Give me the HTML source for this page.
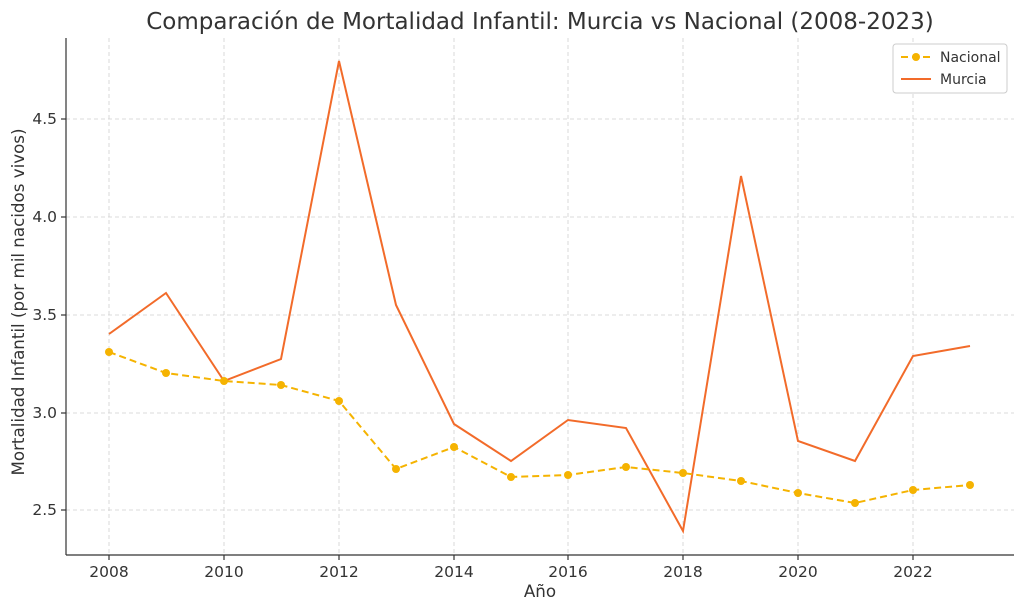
<!DOCTYPE html>
<html><head><meta charset="utf-8"><style>
body{margin:0;background:#fff;}
svg{display:block;font-family:"DejaVu Sans","Liberation Sans",sans-serif;}
</style></head><body>
<svg width="1024" height="611" viewBox="0 0 1024 611">
<rect width="1024" height="611" fill="#fff"/>
<text x="540" y="29" font-size="23" fill="#333" text-anchor="middle">Comparación de Mortalidad Infantil: Murcia vs Nacional (2008-2023)</text>
<g stroke="#d0d0d0" stroke-dasharray="4,3" stroke-width="0.8">
<line x1="109" y1="38" x2="109" y2="555"/><line x1="224" y1="38" x2="224" y2="555"/>
<line x1="339" y1="38" x2="339" y2="555"/><line x1="454" y1="38" x2="454" y2="555"/>
<line x1="568" y1="38" x2="568" y2="555"/><line x1="683" y1="38" x2="683" y2="555"/>
<line x1="798" y1="38" x2="798" y2="555"/><line x1="913" y1="38" x2="913" y2="555"/>
<line x1="66" y1="119" x2="1014" y2="119"/><line x1="66" y1="217" x2="1014" y2="217"/>
<line x1="66" y1="315" x2="1014" y2="315"/><line x1="66" y1="413" x2="1014" y2="413"/>
<line x1="66" y1="510" x2="1014" y2="510"/>
</g>
<g stroke="#333" stroke-width="1.2">
<line x1="66" y1="38" x2="66" y2="555"/><line x1="66" y1="555" x2="1014" y2="555"/>
<line x1="109" y1="555" x2="109" y2="560"/><line x1="224" y1="555" x2="224" y2="560"/>
<line x1="339" y1="555" x2="339" y2="560"/><line x1="454" y1="555" x2="454" y2="560"/>
<line x1="568" y1="555" x2="568" y2="560"/><line x1="683" y1="555" x2="683" y2="560"/>
<line x1="798" y1="555" x2="798" y2="560"/><line x1="913" y1="555" x2="913" y2="560"/>
<line x1="61" y1="119" x2="66" y2="119"/><line x1="61" y1="217" x2="66" y2="217"/>
<line x1="61" y1="315" x2="66" y2="315"/><line x1="61" y1="413" x2="66" y2="413"/>
<line x1="61" y1="510" x2="66" y2="510"/>
</g>
<g font-size="15.5" fill="#333" text-anchor="middle">
<text x="109" y="577">2008</text><text x="224" y="577">2010</text><text x="339" y="577">2012</text>
<text x="454" y="577">2014</text><text x="568" y="577">2016</text><text x="683" y="577">2018</text>
<text x="798" y="577">2020</text><text x="913" y="577">2022</text>
</g>
<g font-size="15.5" fill="#333" text-anchor="end">
<text x="57" y="124">4.5</text><text x="57" y="222">4.0</text><text x="57" y="320">3.5</text>
<text x="57" y="418">3.0</text><text x="57" y="515">2.5</text>
</g>
<text x="540" y="597" font-size="16.7" fill="#333" text-anchor="middle">Año</text>
<text transform="translate(24,302) rotate(-90)" font-size="16.7" fill="#333" text-anchor="middle">Mortalidad Infantil (por mil nacidos vivos)</text>
<polyline fill="none" stroke="#f26b2a" stroke-width="2" points="109,334 166,293 224,381 281,359 339,61 396,305 454,424 511,461 568,420 626,428 683,531 741,176 798,441 855,461 913,356 970,346"/>
<polyline fill="none" stroke="#f5b301" stroke-width="2" stroke-dasharray="7,4" points="109,352 166,373 224,381 281,385 339,401 396,469 454,447 511,477 568,475 626,467 683,473 741,481 798,493 855,503 913,490 970,485"/>
<g fill="#f5b301">
<circle cx="109" cy="352" r="4"/><circle cx="166" cy="373" r="4"/><circle cx="224" cy="381" r="4"/><circle cx="281" cy="385" r="4"/>
<circle cx="339" cy="401" r="4"/><circle cx="396" cy="469" r="4"/><circle cx="454" cy="447" r="4"/><circle cx="511" cy="477" r="4"/>
<circle cx="568" cy="475" r="4"/><circle cx="626" cy="467" r="4"/><circle cx="683" cy="473" r="4"/><circle cx="741" cy="481" r="4"/>
<circle cx="798" cy="493" r="4"/><circle cx="855" cy="503" r="4"/><circle cx="913" cy="490" r="4"/><circle cx="970" cy="485" r="4"/>
</g>
<rect x="893" y="44" width="114" height="49" fill="#fff" stroke="#ccc" rx="3"/>
<line x1="901" y1="57" x2="931" y2="57" stroke="#f5b301" stroke-width="2" stroke-dasharray="7,4"/>
<circle cx="916" cy="57" r="4" fill="#f5b301"/>
<line x1="901" y1="79" x2="931" y2="79" stroke="#f26b2a" stroke-width="2"/>
<text x="940" y="62" font-size="14" fill="#333">Nacional</text>
<text x="940" y="84" font-size="14" fill="#333">Murcia</text>
</svg>
</body></html>
